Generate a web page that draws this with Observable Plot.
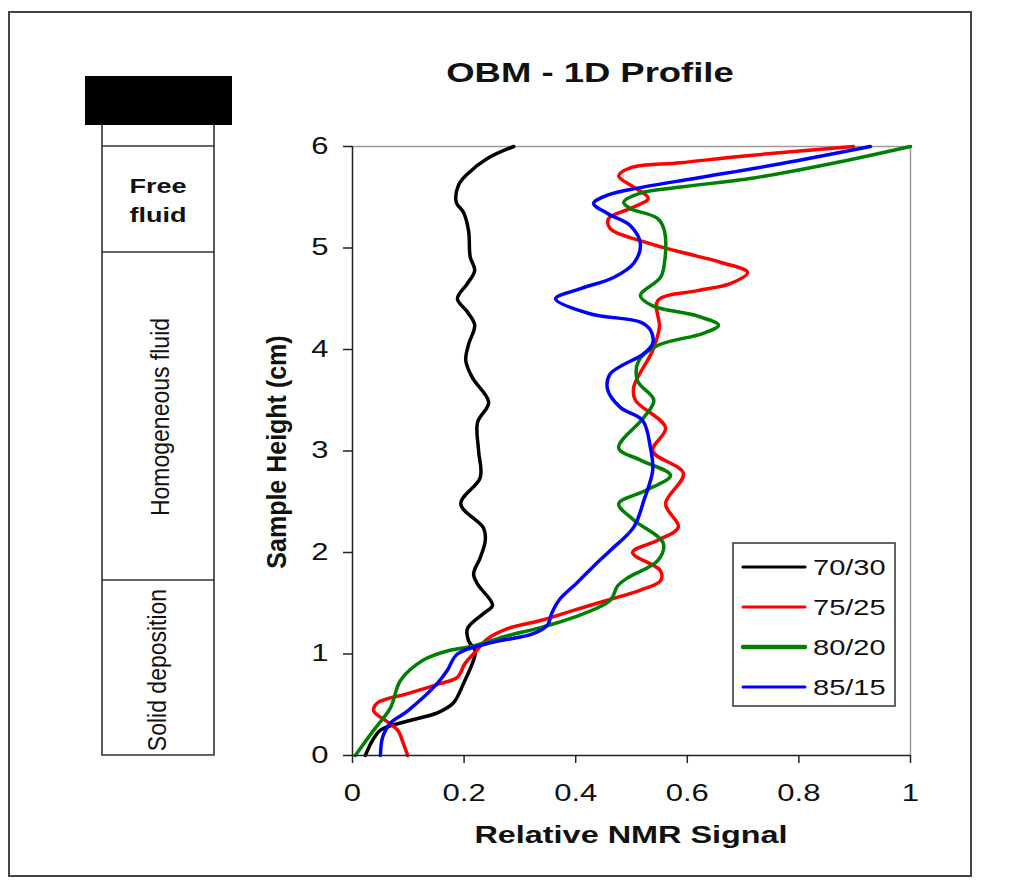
<!DOCTYPE html>
<html><head><meta charset="utf-8">
<script src="https://cdn.jsdelivr.net/npm/d3@7"></script>
<script src="https://cdn.jsdelivr.net/npm/@observablehq/plot@0.6"></script>
<style>
body{margin:0;background:#fff;}
#chart{position:relative;width:1022px;height:889px;}
</style>
</head><body><div id="chart"></div>
<script>
// ---- data (relative NMR signal, sample height cm), read top to bottom ----
const seriesNames = ["70/30", "75/25", "80/20", "85/15"];
const seriesColors = ["#000000", "#ff0000", "#008000", "#0000ff"];
const legendWidths = [3, 3, 4.5, 3];

const profile7030 = [[0.289,6.0],[0.241,5.88],[0.206,5.73],[0.190,5.62],[0.186,5.45],[0.199,5.35],[0.208,5.17],[0.211,4.91],[0.219,4.78],[0.206,4.65],[0.188,4.50],[0.206,4.37],[0.219,4.24],[0.208,4.05],[0.203,3.89],[0.215,3.72],[0.244,3.48],[0.224,3.28],[0.226,3.00],[0.229,2.74],[0.194,2.48],[0.235,2.24],[0.238,2.12],[0.229,1.95],[0.217,1.79],[0.224,1.69],[0.251,1.48],[0.235,1.40],[0.206,1.25],[0.208,1.13],[0.220,1.03],[0.217,0.94],[0.199,0.71],[0.181,0.52],[0.152,0.42],[0.099,0.34],[0.050,0.25],[0.036,0.15],[0.023,0.0]];
const profile7525 = [[0.898,6.0],[0.708,5.91],[0.588,5.84],[0.498,5.79],[0.477,5.71],[0.504,5.60],[0.530,5.49],[0.498,5.39],[0.459,5.29],[0.462,5.19],[0.529,5.05],[0.588,4.96],[0.659,4.86],[0.708,4.76],[0.677,4.65],[0.618,4.58],[0.547,4.48],[0.550,4.22],[0.538,3.99],[0.504,3.63],[0.507,3.50],[0.561,3.23],[0.538,3.00],[0.593,2.78],[0.561,2.48],[0.584,2.25],[0.547,2.12],[0.502,2.00],[0.552,1.82],[0.552,1.72],[0.516,1.63],[0.457,1.53],[0.396,1.43],[0.337,1.33],[0.278,1.25],[0.242,1.15],[0.220,1.02],[0.202,0.91],[0.188,0.77],[0.158,0.71],[0.099,0.61],[0.045,0.52],[0.038,0.44],[0.063,0.33],[0.081,0.25],[0.091,0.12],[0.099,0.0]];
const profile8020 = [[1.0,6.0],[0.857,5.83],[0.719,5.69],[0.588,5.60],[0.516,5.54],[0.486,5.45],[0.498,5.39],[0.547,5.29],[0.559,5.17],[0.559,4.85],[0.552,4.71],[0.516,4.53],[0.538,4.43],[0.618,4.33],[0.656,4.24],[0.629,4.16],[0.547,4.04],[0.513,3.89],[0.511,3.69],[0.540,3.50],[0.522,3.33],[0.477,3.03],[0.516,2.91],[0.570,2.76],[0.525,2.61],[0.477,2.48],[0.504,2.32],[0.557,2.09],[0.547,1.92],[0.493,1.75],[0.475,1.67],[0.462,1.53],[0.396,1.36],[0.337,1.26],[0.278,1.18],[0.217,1.08],[0.170,1.03],[0.127,0.94],[0.086,0.74],[0.068,0.47],[0.038,0.25],[0.005,0.0]];
const profile8515 = [[0.928,6.0],[0.767,5.83],[0.618,5.69],[0.511,5.59],[0.457,5.52],[0.432,5.44],[0.457,5.34],[0.498,5.22],[0.516,5.04],[0.504,4.85],[0.468,4.71],[0.409,4.60],[0.364,4.50],[0.427,4.35],[0.516,4.27],[0.534,4.19],[0.538,4.06],[0.522,3.96],[0.462,3.76],[0.457,3.61],[0.480,3.43],[0.520,3.30],[0.534,3.03],[0.538,2.81],[0.522,2.51],[0.504,2.25],[0.462,2.02],[0.433,1.87],[0.402,1.70],[0.370,1.53],[0.357,1.40],[0.350,1.29],[0.324,1.20],[0.247,1.11],[0.188,1.00],[0.170,0.84],[0.152,0.71],[0.099,0.44],[0.068,0.32],[0.054,0.18],[0.050,0.0]];

const xTicks = [0, 0.2, 0.4, 0.6, 0.8, 1];
const yTicks = [0, 1, 2, 3, 4, 5, 6];
const zoneLabels = ["Free", "fluid", "Homogeneous fluid", "Solid deposition"];
const titleText = "OBM - 1D Profile";
const xTitle = "Relative NMR Signal";
const yTitle = "Sample Height (cm)";

// ---- build table ----
const profiles = [profile7030, profile7525, profile8020, profile8515];
const rows = [];
profiles.forEach((arr, i) => arr.forEach(([x, y]) => rows.push({series: seriesNames[i], signal: x, height: y})));

const FONT = "'Liberation Sans', Arial, Helvetica, sans-serif";
const S = 1.35;   // horizontal glyph stretch of the original picture
const SR = 1.12;  // milder stretch for rotated labels

const plot = Plot.plot({
  width: 1022, height: 889,
  marginLeft: 352, marginRight: 112, marginTop: 146, marginBottom: 134,
  style: {fontFamily: FONT, color: "#111", background: "#fff"},
  x: {domain: [0, 1], label: null},
  y: {domain: [0, 6], label: null},
  color: {domain: seriesNames, range: seriesColors},
  marks: [
    Plot.ruleY([6], {stroke: "#9a9a9a", strokeWidth: 1.5}),
    Plot.ruleX([1], {stroke: "#9a9a9a", strokeWidth: 1.5}),
    Plot.line(rows, {x: "signal", y: "height", z: "series", stroke: "series", strokeWidth: 3.5, curve: "catmull-rom"}),
    Plot.ruleY([0], {stroke: "#222", strokeWidth: 1.5}),
    Plot.ruleX([0], {stroke: "#222", strokeWidth: 1.5}),
    Plot.axisX(xTicks, {tickSize: 8, tickPadding: 21, fontSize: 23, label: null, stroke: "#222", strokeWidth: 1.5, tickFormat: d => String(d)}),
    Plot.axisY(yTicks, {tickSize: 9, tickPadding: 15, fontSize: 23, label: null, stroke: "#222", strokeWidth: 1.5, tickFormat: d => String(d)})
  ]
});

document.getElementById("chart").appendChild(plot);

// stretch Plot's own texts like the original picture
d3.select(plot).selectAll("text").each(function () {
  const t = this.getAttribute("transform") || "";
  const rotated = /rotate\(\s*-?(90|270)/.test(t);
  this.setAttribute("transform", t + (rotated ? ` scale(1,${SR})` : ` scale(${S},1)`));
});

const svg = d3.select(plot);
const deco = svg.append("g");

function addText(x, y, str, size, weight, anchor, rot) {
  deco.append("text")
    .attr("transform", `translate(${x},${y})` + (rot ? ` rotate(-90) scale(1,${SR})` : ` scale(${S},1)`))
    .attr("text-anchor", anchor)
    .attr("font-size", size)
    .attr("font-weight", weight)
    .attr("font-family", FONT)
    .attr("fill", "#111")
    .text(str);
}

// outer frame
deco.append("rect").attr("x", 9).attr("y", 12).attr("width", 962).attr("height", 864)
  .attr("fill", "none").attr("stroke", "#444").attr("stroke-width", 2);

// tube schematic
const tubeL = 102, tubeR = 214;
deco.append("rect").attr("x", 85).attr("y", 76).attr("width", 147).attr("height", 49).attr("fill", "#000");
deco.append("path")
  .attr("d", `M${tubeL},125V755H${tubeR}V125M${tubeL},146H${tubeR}M${tubeL},252H${tubeR}M${tubeL},580H${tubeR}`)
  .attr("fill", "none").attr("stroke", "#333").attr("stroke-width", 1.6);

addText(158, 193, zoneLabels[0], 20, "bold", "middle", false);
addText(158, 222, zoneLabels[1], 20, "bold", "middle", false);
addText(169, 417, zoneLabels[2], 23, "normal", "middle", true);
addText(166, 670, zoneLabels[3], 23, "normal", "middle", true);

// titles
addText(590, 82, titleText, 27, "bold", "middle", false);
addText(631, 843, xTitle, 24, "bold", "middle", false);
addText(286, 452, yTitle, 25, "bold", "middle", true);

// legend
deco.append("rect").attr("x", 733).attr("y", 543).attr("width", 162).attr("height", 163)
  .attr("fill", "#fff").attr("stroke", "#333").attr("stroke-width", 1.5);
seriesNames.forEach((name, i) => {
  const y = 567 + i * 40;
  deco.append("line").attr("x1", 743).attr("x2", 805).attr("y1", y).attr("y2", y)
    .attr("stroke", seriesColors[i]).attr("stroke-width", legendWidths[i]).attr("stroke-linecap", "round");
  addText(813, y + 7.5, name, 21.5, "normal", "start", false);
});
</script>
</body></html>
